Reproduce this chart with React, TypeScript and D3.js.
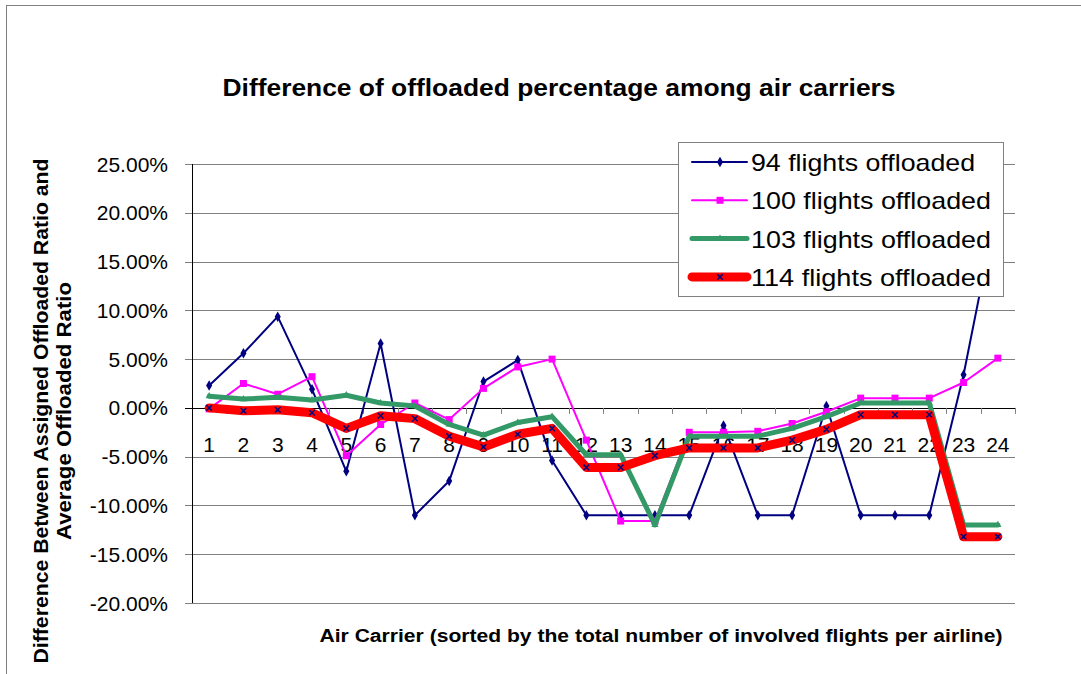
import * as d3 from "d3";

const categories = ["1", "2", "3", "4", "5", "6", "7", "8", "9", "10", "11", "12", "13", "14", "15", "16", "17", "18", "19", "20", "21", "22", "23", "24"];

// values in percent
const flights94 = [2.3, 5.6, 9.35, 1.9, -6.5, 6.6, -11.0, -7.5, 2.7, 4.9, -5.4, -11.0, -11.0, -11.0, -11.0, -1.8, -11.0, -11.0, 0.2, -11.0, -11.0, -11.0, 3.4, 21.0];
const flights100 = [-0.1, 2.5, 1.4, 3.2, -4.9, -1.7, 0.5, -1.2, 2.0, 4.2, 5.0, -3.3, -11.6, -11.6, -2.5, -2.5, -2.4, -1.6, -0.4, 1.0, 1.0, 1.0, 2.6, 5.1];
const flights103 = [1.2, 0.9, 1.1, 0.8, 1.3, 0.5, 0.2, -1.7, -2.8, -1.5, -0.9, -4.8, -4.8, -12.0, -2.9, -2.9, -2.9, -2.1, -0.9, 0.5, 0.5, 0.5, -12.0, -12.0];
const flights114 = [0.0, -0.3, -0.2, -0.5, -2.1, -0.8, -1.1, -2.9, -4.0, -2.7, -2.1, -6.1, -6.1, -4.9, -4.1, -4.1, -4.1, -3.3, -2.2, -0.7, -0.7, -0.7, -13.2, -13.2];

const seriesNames = ["94 flights offloaded", "100 flights offloaded", "103 flights offloaded", "114 flights offloaded"];
const yTickValues = [25, 20, 15, 10, 5, 0, -5, -10, -15, -20];

const FONT = "'Liberation Sans', Arial, sans-serif";

type Series = {
    name: string;
    values: number[];
    color: string;
    width: number;
    symbol: d3.SymbolType;
    symbolSize: number;
    markerFill: string;
    markerStroke: string;
};

const series: Series[] = [
    { name: seriesNames[0], values: flights94, color: "#000080", width: 2, symbol: d3.symbolDiamond, symbolSize: 32, markerFill: "#000080", markerStroke: "none" },
    { name: seriesNames[1], values: flights100, color: "#FF00FF", width: 2, symbol: d3.symbolSquare, symbolSize: 49, markerFill: "#FF00FF", markerStroke: "none" },
    { name: seriesNames[2], values: flights103, color: "#339966", width: 5, symbol: d3.symbolTriangle, symbolSize: 22, markerFill: "#339966", markerStroke: "none" },
    { name: seriesNames[3], values: flights114, color: "#FF0000", width: 9, symbol: d3.symbolTimes, symbolSize: 22, markerFill: "none", markerStroke: "#000080" },
];

const fmt = d3.formatLocale({ decimal: ".", thousands: ",", grouping: [3], currency: ["", ""], minus: "-", percent: "%" }).format(".2f");

export default function App() {
    const width = 1081;
    const height = 674;
    const plot = { left: 192, right: 1015, top: 164, bottom: 603 };

    const xScale = d3.scaleBand<string>().domain(categories).range([plot.left, plot.right]).padding(0);
    const bw = xScale.bandwidth();
    const xc = (c: string) => (xScale(c) ?? 0) + bw / 2;
    const yScale = d3.scaleLinear().domain([-20, 25]).range([plot.bottom, plot.top]);
    const y0 = yScale(0);

    const line = d3.line<number>().x((_, i) => xc(categories[i])).y((d) => yScale(d));

    const legend = { x: 678, y: 142, w: 325, h: 154 };

    return (
        <div style={{ position: "absolute", left: 0, top: 0 }}>
            <svg width={width} height={height} viewBox={`0 0 ${width} ${height}`} style={{ display: "block", background: "#fff" }}>
                <rect x={6.5} y={5.5} width={1200} height={800} fill="#fff" stroke="#808080" strokeWidth={1} />

                <text x={559} y={96} textAnchor="middle" fontFamily={FONT} fontWeight="bold" fontSize={23} textLength={673} lengthAdjust="spacingAndGlyphs" fill="#000">
                    Difference of offloaded percentage among air carriers
                </text>

                {/* gridlines and y ticks */}
                {yTickValues.map((t) => (
                    <g key={t}>
                        <line x1={plot.left - 7} x2={plot.right} y1={Math.round(yScale(t)) + 0.5} y2={Math.round(yScale(t)) + 0.5} stroke={t === 0 ? "#000" : "#808080"} strokeWidth={1} />
                        <text x={168} y={yScale(t)} textAnchor="end" dominantBaseline="central" fontFamily={FONT} fontSize={21} fill="#000">
                            {fmt(t) + "%"}
                        </text>
                    </g>
                ))}

                {/* y axis */}
                <line x1={plot.left + 0.5} x2={plot.left + 0.5} y1={plot.top} y2={plot.bottom} stroke="#000" strokeWidth={1} />

                {/* category ticks on zero line */}
                {categories.map((c) => (
                    <line key={"t" + c} x1={Math.round((xScale(c) ?? 0) + bw) + 0.5} x2={Math.round((xScale(c) ?? 0) + bw) + 0.5} y1={y0} y2={y0 + 6} stroke="#808080" strokeWidth={1} />
                ))}

                {categories.map((c) => (
                    <text key={"l" + c} x={xc(c)} y={452} textAnchor="middle" fontFamily={FONT} fontSize={21} fill="#000">
                        {c}
                    </text>
                ))}

                {/* series */}
                {series.map((s) => (
                    <g key={s.name}>
                        <path d={line(s.values) ?? ""} fill="none" stroke={s.color} strokeWidth={s.width} strokeLinejoin="round" strokeLinecap="round" />
                        {s.values.map((v, i) => (
                            <path
                                key={i}
                                transform={`translate(${xc(categories[i])},${yScale(v)})`}
                                d={d3.symbol().type(s.symbol).size(s.symbolSize)() ?? ""}
                                fill={s.markerFill}
                                stroke={s.markerStroke}
                                strokeWidth={1.5}
                            />
                        ))}
                    </g>
                ))}

                {/* legend */}
                <rect x={legend.x + 0.5} y={legend.y + 0.5} width={legend.w} height={legend.h} fill="#fff" stroke="#808080" strokeWidth={1} />
                {series.map((s, i) => {
                    const cy = 162 + i * 38.3;
                    return (
                        <g key={"lg" + s.name}>
                            <line x1={692} x2={747} y1={cy} y2={cy} stroke={s.color} strokeWidth={s.width} strokeLinecap="round" />
                            <path transform={`translate(720,${cy})`} d={d3.symbol().type(s.symbol).size(s.symbolSize)() ?? ""} fill={s.markerFill} stroke={s.markerStroke} strokeWidth={1.5} />
                            <text x={751} y={cy + 9} fontFamily={FONT} fontSize={24} fill="#000" textLength={i === 0 ? 224 : 240} lengthAdjust="spacingAndGlyphs">
                                {s.name}
                            </text>
                        </g>
                    );
                })}

                {/* axis titles */}
                <text x={661} y={642} textAnchor="middle" fontFamily={FONT} fontWeight="bold" fontSize={18} textLength={683} lengthAdjust="spacingAndGlyphs" fill="#000">
                    Air Carrier (sorted by the total number of involved flights per airline)
                </text>
                <g transform="translate(48,411) rotate(-90)">
                    <text x={0} y={0} textAnchor="middle" fontFamily={FONT} fontWeight="bold" fontSize={20} textLength={505} lengthAdjust="spacingAndGlyphs" fill="#000">
                        Difference Between Assigned Offloaded Ratio and
                    </text>
                    <text x={0} y={23} textAnchor="middle" fontFamily={FONT} fontWeight="bold" fontSize={20} textLength={258} lengthAdjust="spacingAndGlyphs" fill="#000">
                        Average Offloaded Ratio
                    </text>
                </g>
            </svg>
        </div>
    );
}
